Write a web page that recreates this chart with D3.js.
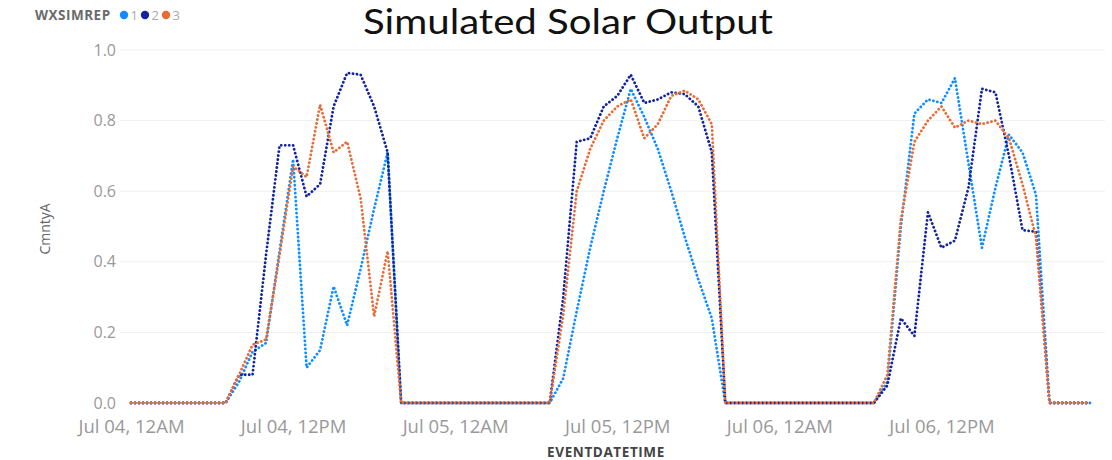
<!DOCTYPE html>
<html><head><meta charset="utf-8">
<script src="https://cdn.jsdelivr.net/npm/d3@7"></script>
<style>
html,body{margin:0;padding:0;background:#fff;}
svg{display:block;}
</style></head>
<body><svg id="chart" width="1112" height="460"></svg>
<script>
// ---- data ----
const chartTitle = "Simulated Solar Output";
const legendTitle = "WXSIMREP";
const seriesNames = ["1", "2", "3"];
const seriesColors = ["#118DFF", "#12239E", "#E66C37"];
const yTicks = [0, 0.2, 0.4, 0.6, 0.8, 1.0];
const xTickLabels = ["Jul 04, 12AM", "Jul 04, 12PM", "Jul 05, 12AM", "Jul 05, 12PM", "Jul 06, 12AM", "Jul 06, 12PM"];
const xTickTimes = [new Date(2021,6,4,0), new Date(2021,6,4,12), new Date(2021,6,5,0), new Date(2021,6,5,12), new Date(2021,6,6,0), new Date(2021,6,6,12)];
const startTime = new Date(2021, 6, 4, 0);
const endTime = new Date(2021, 6, 6, 23);

// hourly values, Jul 04 00:00 .. Jul 06 23:00
const series1 = [
  0,0,0,0,0,0,0, 0,0.06,0.145,0.17,0.43,0.69,0.10,0.15,0.33,0.22,0.38,0.55,0.71, 0,
  0,0,0,0,0,0,0,0,0,0, 0,0.07,0.26,0.44,0.60,0.75,0.89,0.81,0.72,0.60,0.47,0.35,0.24, 0,
  0,0,0,0,0,0,0,0,0,0, 0,0.06,0.50,0.82,0.86,0.85,0.92,0.68,0.44,0.61,0.76,0.71,0.59, 0,
  0,0,0
];
const series2 = [
  0,0,0,0,0,0,0, 0,0.08,0.08,0.42,0.73,0.73,0.585,0.62,0.84,0.935,0.93,0.84,0.71, 0,
  0,0,0,0,0,0,0,0,0,0, 0,0.30,0.74,0.75,0.84,0.87,0.93,0.85,0.86,0.88,0.875,0.84,0.71, 0,
  0,0,0,0,0,0,0,0,0,0, 0,0.05,0.24,0.19,0.54,0.44,0.46,0.61,0.89,0.88,0.70,0.49,0.485, 0,
  0,0,0
];
const series3 = [
  0,0,0,0,0,0,0, 0,0.08,0.165,0.18,0.42,0.67,0.64,0.845,0.71,0.74,0.58,0.245,0.43, 0,
  0,0,0,0,0,0,0,0,0,0, 0,0.25,0.60,0.72,0.80,0.84,0.86,0.75,0.79,0.87,0.885,0.86,0.79, 0,
  0,0,0,0,0,0,0,0,0,0, 0,0.08,0.52,0.74,0.80,0.84,0.78,0.80,0.79,0.80,0.75,0.62,0.47, 0,
  0,0,0
];
const allSeries = [series1, series2, series3];
const times = d3.timeHour.range(startTime, d3.timeHour.offset(endTime, 1));

// ---- chart ----
const svg = d3.select("#chart");
const FONT = "'Open Sans', 'Noto Sans', sans-serif";

const x = d3.scaleTime().domain([startTime, endTime]).range([131, 1090]);
const y = d3.scaleLinear().domain([0, 1]).range([403, 50]);

// gridlines
svg.append("g").selectAll("line").data(yTicks.slice(1)).join("line")
  .attr("x1", 120).attr("x2", 1105)
  .attr("y1", d => y(d)).attr("y2", d => y(d))
  .attr("stroke", "#f0f0f0").attr("stroke-width", 1);

// y axis
const yAxis = d3.axisLeft(y).tickValues(yTicks).tickFormat(d3.format(".1f")).tickSize(0).tickPadding(0);
const gy = svg.append("g").attr("transform", "translate(116,0)").call(yAxis);
gy.select(".domain").remove();
gy.selectAll("text").attr("font-family", FONT).attr("font-size", 16).attr("fill", "#999");

// x axis
const xAxis = d3.axisBottom(x).tickValues(xTickTimes).tickFormat((d, i) => xTickLabels[i]).tickSize(0).tickPadding(0);
const gx = svg.append("g").attr("transform", "translate(0,420)").call(xAxis);
gx.select(".domain").remove();
gx.selectAll("text").attr("font-family", FONT).attr("font-size", 18.5).attr("fill", "#999");

// axis titles
svg.append("text").attr("transform", "translate(50,229) rotate(-90)")
  .attr("text-anchor", "middle").attr("font-family", FONT).attr("font-size", 14)
  .attr("fill", "#666").text("CmntyA");
svg.append("text").attr("x", 606).attr("y", 457)
  .attr("text-anchor", "middle").attr("font-family", FONT).attr("font-size", 13.5)
  .attr("font-weight", "bold").attr("letter-spacing", 0.6).attr("fill", "#444").text("EVENTDATETIME");

// lines
const line = d3.line().x((d, i) => x(times[i])).y(d => y(d));
svg.append("g").selectAll("path").data(allSeries).join("path")
  .attr("d", d => line(d))
  .attr("fill", "none")
  .attr("stroke", (d, i) => seriesColors[i])
  .attr("stroke-width", 2.8)
  .attr("stroke-linecap", "round")
  .attr("stroke-linejoin", "round")
  .attr("stroke-dasharray", "0.1 3.9");

// title
svg.append("text").attr("x", 568).attr("y", 34).attr("text-anchor", "middle")
  .attr("font-family", "Lato, 'Open Sans', sans-serif").attr("font-size", 34)
  .attr("textLength", 410).attr("lengthAdjust", "spacingAndGlyphs")
  .attr("fill", "#111").text(chartTitle);

// legend
const lg = svg.append("g");
lg.append("text").attr("x", 35).attr("y", 20).attr("font-family", FONT)
  .attr("font-size", 13.5).attr("font-weight", "bold").attr("letter-spacing", 0.5)
  .attr("fill", "#6b6b6b").text(legendTitle);
const items = lg.selectAll("g.item").data(seriesNames).join("g").attr("class", "item")
  .attr("transform", (d, i) => `translate(${124 + i * 21},15)`);
items.append("circle").attr("r", 4.2).attr("fill", (d, i) => seriesColors[i]);
items.append("text").attr("x", 6.5).attr("y", 5).attr("font-family", FONT)
  .attr("font-size", 13).attr("fill", "#aaa").text(d => d);
</script>
</body></html>
